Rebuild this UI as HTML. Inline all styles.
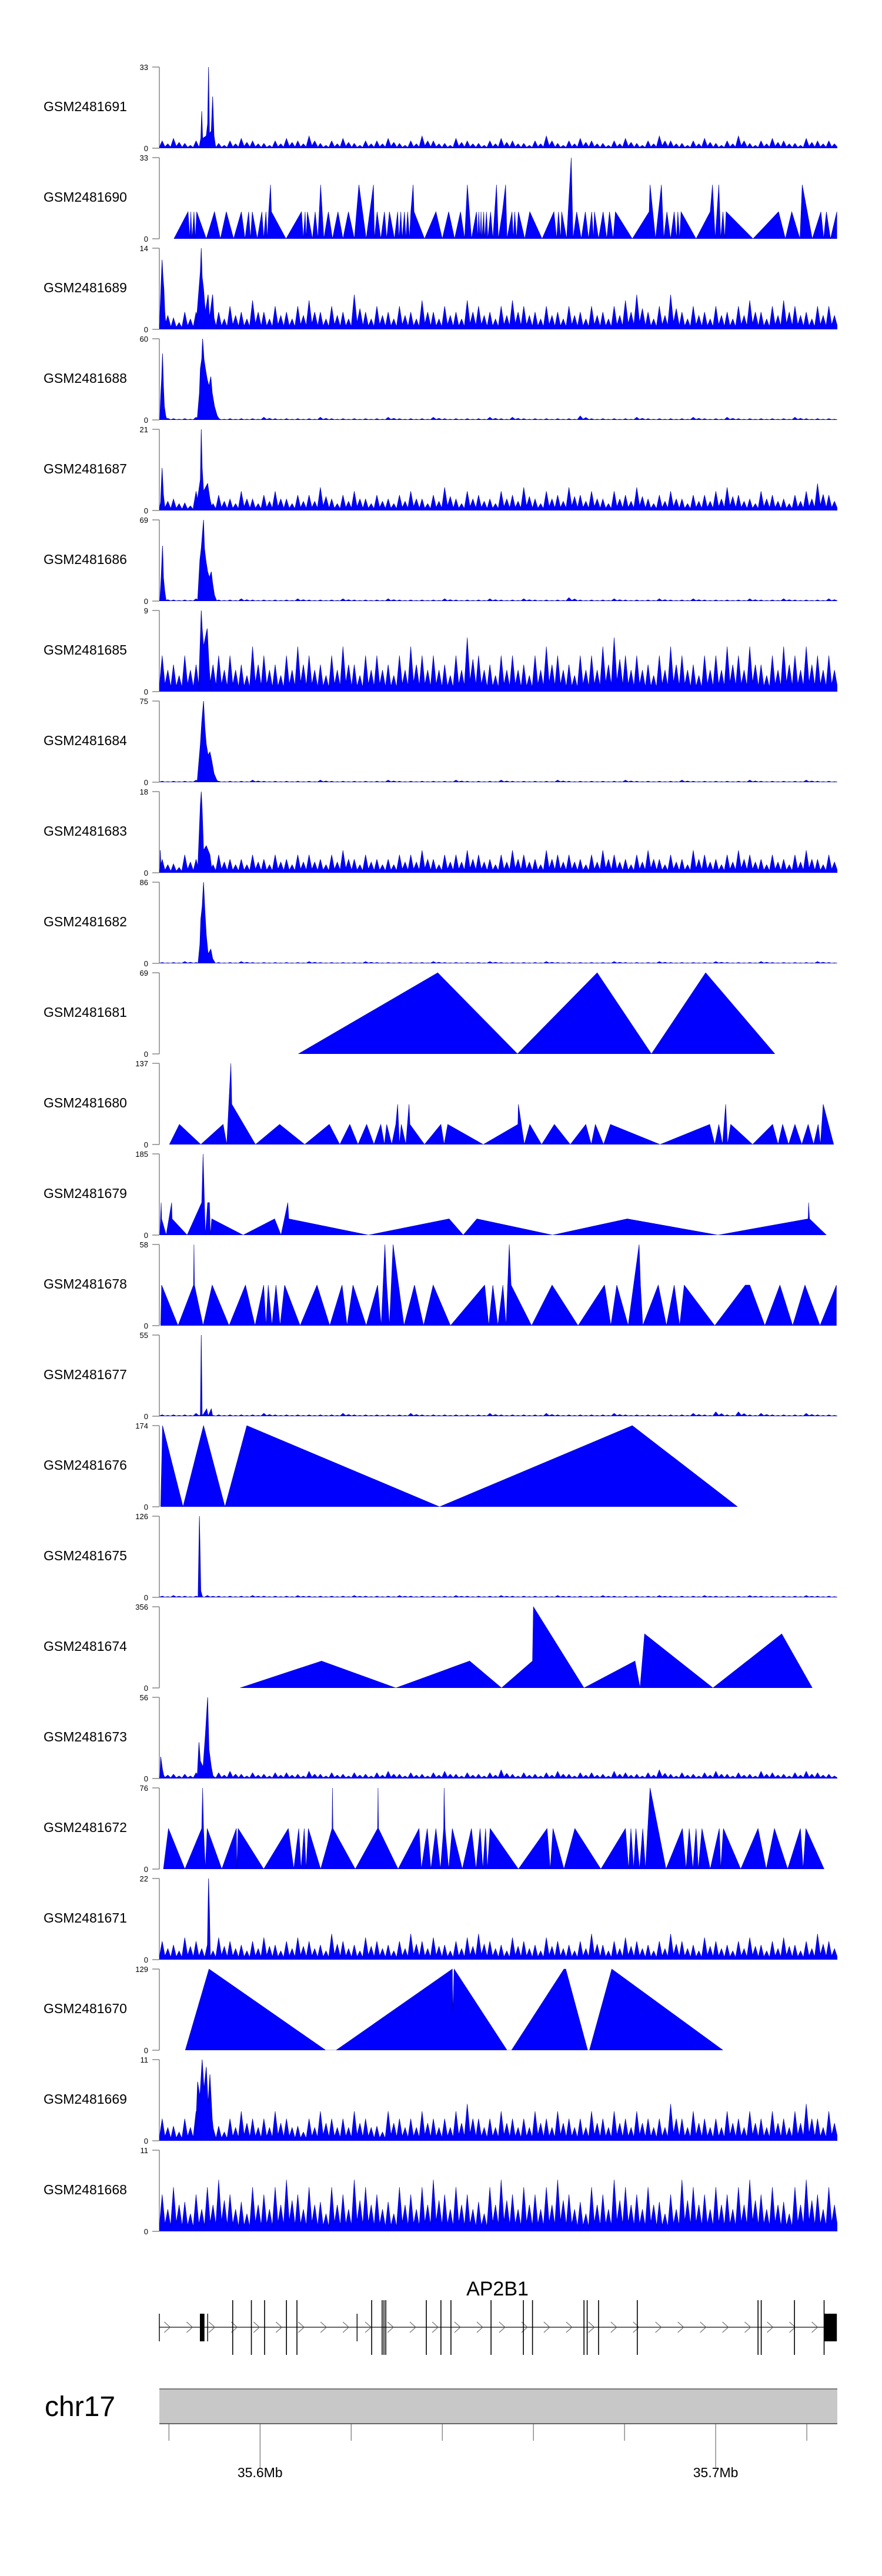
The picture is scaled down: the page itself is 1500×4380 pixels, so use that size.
<!DOCTYPE html>
<html><head><meta charset="utf-8"><title>Coverage tracks AP2B1</title>
<style>
html,body{margin:0;padding:0;background:#fff;}
svg{display:block;font-family:"Liberation Sans",Arial,sans-serif;}
</style></head>
<body>
<svg id="chart" width="1500" height="4380" viewBox="0 0 1500 4380" xmlns="http://www.w3.org/2000/svg">
<g id="tracks"></g>
<g id="gene"></g>
<g id="ideo"></g>
</svg>
<script>
// ---- genomic window (kb offset from 35.5 Mb) ----
const winStart = 77.9, winEnd = 226.7;
// ---- track names and y maxima ----
const trackNames = ["GSM2481691","GSM2481690","GSM2481689","GSM2481688","GSM2481687","GSM2481686","GSM2481685","GSM2481684","GSM2481683","GSM2481682","GSM2481681","GSM2481680","GSM2481679","GSM2481678","GSM2481677","GSM2481676","GSM2481675","GSM2481674","GSM2481673","GSM2481672","GSM2481671","GSM2481670","GSM2481669","GSM2481668"];
const trackMax = [33,33,14,60,21,69,9,75,18,86,69,137,185,58,55,174,126,356,56,76,22,129,11,11];

// ---- dense-track background levels (60 bins across the window) ----
const bg1691 = [3,4,2,3,5,2,3,4,3,2,3,4,3,5,2,3,4,2,3,3,4,2,3,5,3,2,4,3,2,3,4,3,2,3,5,2,3,4,3,2,3,4,2,3,5,3,2,3,4,2,3,5,2,3,4,3,2,4,3,3];
const bg1689 = [4,2,3,3,4,3,4,3,5,3,4,3,4,5,3,4,3,6,3,4,3,4,3,5,3,4,3,5,4,3,4,5,4,3,4,3,4,3,4,3,4,5,6,3,4,6,3,4,3,4,3,4,5,3,4,5,4,3,4,4];
const bg1688 = [2,1,1,2,1,1,1,1,1,2,1,1,1,1,2,1,1,1,1,1,2,1,1,1,2,1,1,1,1,2,1,2,1,1,1,1,1,3,1,1,1,1,2,1,1,1,1,2,1,1,2,1,1,1,1,1,2,1,1,1];
const bg1687 = [4,3,2,5,3,4,3,5,3,4,5,3,4,4,6,3,4,5,3,4,3,4,5,3,4,6,3,5,4,3,5,4,6,3,5,4,6,4,5,3,5,4,6,3,4,5,3,4,4,5,6,4,3,5,4,3,4,5,7,4];
const bg1686 = [2,1,1,2,1,1,1,2,1,1,1,1,2,1,1,1,2,1,1,1,2,1,1,1,1,2,1,1,1,2,1,1,2,1,1,1,3,1,1,1,2,1,1,1,2,1,1,2,1,1,1,1,2,1,1,2,1,1,1,2];
const bg1685 = [4,3,4,3,5,4,4,3,5,4,3,4,5,4,3,4,5,3,4,4,3,4,5,4,4,3,4,6,4,3,4,4,3,4,5,4,3,4,4,5,6,4,4,3,4,5,4,3,4,4,5,4,5,3,4,5,4,5,4,4];
const bg1684 = [1,1,1,2,1,1,1,1,2,1,1,1,1,1,2,1,1,1,1,1,2,1,1,1,1,1,2,1,1,1,2,1,1,1,1,2,1,1,1,1,1,2,1,1,1,1,2,1,1,1,1,1,2,1,1,1,1,2,1,1];
const bg1683 = [3,2,4,3,3,4,3,3,4,3,4,3,4,4,3,4,5,3,4,3,3,4,4,5,3,4,4,5,4,3,4,5,4,3,5,4,4,3,4,5,4,3,4,5,3,4,3,5,4,3,4,5,4,3,4,3,4,5,3,4];
const bg1682 = [1,1,2,1,1,1,1,2,1,1,1,1,1,2,1,1,1,1,2,1,1,1,1,1,2,1,1,1,1,2,1,1,1,1,2,1,1,1,1,1,2,1,1,1,2,1,1,1,1,2,1,1,1,2,1,1,1,1,2,1];
const bg1677 = [1,1,1,2,1,1,1,1,1,2,1,1,1,1,1,1,2,1,1,1,1,1,2,1,1,1,1,1,1,2,1,1,1,1,2,1,1,1,1,1,2,1,1,1,1,1,1,2,1,3,1,3,1,2,1,1,1,2,1,1];
const bg1675 = [2,3,2,2,3,2,2,2,3,2,2,2,3,2,2,2,2,3,2,2,2,3,2,2,2,2,3,2,2,2,3,2,2,2,2,3,2,2,2,3,2,2,2,2,3,2,2,2,3,2,2,2,3,2,2,2,2,3,2,2];
const bg1673 = [4,3,3,4,3,4,5,3,4,3,4,4,3,5,3,4,3,4,3,4,5,3,4,3,4,5,3,4,3,4,6,3,4,3,4,5,3,4,4,3,5,4,3,4,6,3,4,3,4,5,3,4,3,5,4,3,4,5,4,3];
const bg1671 = [5,4,6,5,4,6,5,4,5,6,4,5,6,5,4,7,5,4,6,5,4,5,7,5,6,4,5,6,7,5,4,6,5,4,6,5,4,5,7,4,5,6,5,4,5,7,5,4,6,5,4,5,6,4,5,6,4,5,7,5];
const bg1669 = [3,2,3,4,3,2,3,4,3,3,4,3,2,3,4,3,3,4,3,2,4,3,3,4,3,3,4,5,3,3,4,3,3,4,3,4,3,3,4,3,4,3,4,3,3,5,3,4,3,3,4,3,4,3,4,3,4,5,3,4];
const bg1668 = [5,6,4,5,6,7,5,4,6,5,6,7,5,6,4,6,5,7,6,5,4,6,5,6,7,5,6,5,4,6,7,5,6,5,6,7,5,4,6,5,7,6,5,6,4,5,7,6,5,6,5,6,7,5,6,4,6,7,5,6];

// ---- dense-track peak features [kb, value] ----
const pk1691 = [[86.6,0],[87.0,4],[87.2,15],[87.4,4],[88.2,5],[88.5,10],[88.7,33],[88.9,6],[89.3,7],[89.6,21],[89.9,5],[90.3,0]];
const pk1689 = [[78.0,2],[78.3,8],[78.5,12],[78.7,9],[78.9,7],[79.1,3],[79.4,0],[85.9,0],[86.5,6],[86.9,10],[87.1,14],[87.3,9],[87.6,7],[88.0,3],[88.6,6],[88.9,2],[89.6,6],[89.9,2],[90.5,0]];
const pk1688 = [[78.0,0],[78.2,18],[78.4,30],[78.6,49],[78.8,25],[79.0,10],[79.3,3],[79.6,0],[86.2,0],[86.7,20],[86.9,38],[87.2,45],[87.4,60],[87.7,45],[88.0,38],[88.4,30],[88.8,25],[89.2,32],[89.5,20],[90.0,10],[90.6,3],[91.2,0]];
const pk1687 = [[78.1,0],[78.5,11],[78.8,4],[79.2,0],[86.0,0],[86.4,4],[86.9,8],[87.1,21],[87.3,11],[87.6,5],[88.5,7],[89.0,3],[89.6,0]];
const pk1686 = [[78.0,0],[78.3,20],[78.6,47],[78.8,20],[79.1,8],[79.4,0],[86.3,0],[86.8,35],[87.1,45],[87.6,69],[87.8,45],[88.1,35],[88.5,25],[88.9,20],[89.3,25],[89.6,15],[90.0,5],[90.5,0]];
const pk1685 = [[86.5,0],[86.9,6],[87.1,9],[87.3,7],[87.6,5],[88.4,7],[88.8,3],[89.2,0]];
const pk1684 = [[86.2,0],[86.6,20],[86.9,35],[87.2,55],[87.6,75],[87.9,50],[88.2,35],[88.6,25],[89.0,28],[89.4,20],[89.9,8],[90.5,2],[91.0,0]];
const pk1683 = [[78.0,0],[78.1,5],[78.3,0],[86.3,0],[86.7,10],[86.9,15],[87.1,18],[87.3,14],[87.6,5],[88.2,6],[89.0,4],[89.5,0]];
const pk1682 = [[86.4,0],[86.8,20],[87.0,47],[87.3,60],[87.6,86],[87.9,55],[88.2,30],[88.6,10],[89.2,15],[89.6,5],[90.2,0]];
const pk1677 = [[86.9,0],[87.1,55],[87.3,0],[88.3,5],[88.6,0],[89.3,5],[89.6,0]];
const pk1675 = [[86.4,0],[86.7,126],[87.0,10],[87.4,0]];
const pk1673 = [[78.0,0],[78.2,15],[78.6,6],[79.0,0],[86.2,0],[86.6,25],[86.9,12],[87.5,8],[88.0,30],[88.5,56],[88.8,20],[89.3,8],[89.8,0]];
const pk1671 = [[88.4,0],[88.7,22],[88.9,13],[89.1,0]];
const pk1669 = [[85.8,0],[86.3,8],[86.8,6],[87.3,11],[87.7,7],[88.2,10],[88.6,5],[89.0,9],[89.5,3],[90.0,0]];
const pk1668 = [];

// ---- sparse (interpolated) tracks [kb, value] ----
const tri1690 = [[81.1,0],[84.2,11],[84.6,0],[84.8,11],[85.1,0],[85.5,11],[85.8,0],[86.1,11],[88.2,0],[90.0,11],[91.3,0],[92.6,11],[94.2,0],[95.9,11],[96.7,0],[97.5,11],[97.9,0],[98.3,11],[99.4,0],[100.4,11],[100.8,0],[101.3,11],[101.6,0],[101.9,11],[102.3,22],[102.5,11],[105.7,0],[109.1,11],[109.5,0],[109.9,11],[110.1,0],[110.4,11],[111.5,0],[112.1,11],[112.7,0],[113.3,22],[114.0,0],[115.0,11],[115.9,0],[117.1,11],[118.2,0],[119.4,11],[120.7,0],[121.7,22],[123.3,0],[124.9,22],[125.1,0],[125.7,11],[126.5,0],[127.3,11],[127.8,0],[128.4,11],[129.5,0],[130.2,11],[130.5,0],[130.9,11],[131.2,0],[131.7,11],[132.0,0],[132.4,11],[132.8,0],[133.1,11],[133.6,22],[133.8,11],[136.1,0],[138.6,11],[140.0,0],[141.4,11],[142.7,0],[144.0,11],[144.9,0],[145.5,22],[146.4,0],[147.5,11],[147.8,0],[148.0,11],[148.3,0],[148.5,11],[148.7,0],[149.1,11],[149.3,0],[149.7,11],[150.0,0],[150.6,11],[151.1,0],[151.9,22],[152.3,0],[153.2,11],[153.9,22],[154.2,0],[155.3,11],[155.6,0],[155.9,11],[156.3,0],[156.7,11],[158.1,0],[159.2,11],[161.9,0],[164.5,11],[165.1,0],[165.5,11],[166.0,0],[166.2,11],[167.3,0],[168.3,33],[168.7,0],[169.5,11],[170.5,0],[171.4,11],[172.1,0],[172.8,11],[173.2,0],[173.4,11],[174.3,0],[175.3,11],[176.1,0],[176.7,11],[177.5,0],[178.0,11],[181.7,0],[185.4,11],[185.6,22],[186.8,0],[188.1,22],[188.6,0],[189.3,11],[190.1,0],[190.9,11],[191.4,0],[191.7,11],[192.1,0],[192.4,11],[195.7,0],[198.8,11],[199.3,22],[199.9,0],[200.7,22],[201.1,0],[201.6,11],[202.0,0],[202.3,11],[208.2,0],[213.8,11],[215.3,0],[216.7,11],[218.5,0],[219.0,22],[221.2,0],[223.1,11],[223.7,0],[224.3,11],[225.2,0],[226.6,11]];
const tri1681 = [[108.4,0],[139.0,69],[156.5,0],[174.0,69],[185.9,0],[197.8,69],[213.0,0]];
const tri1680 = [[80.1,0],[82.3,34],[87.0,0],[91.9,34],[92.7,0],[93.6,137],[93.8,68],[99.0,0],[104.3,34],[109.8,0],[115.2,34],[117.5,0],[119.7,34],[121.5,0],[123.4,34],[125.0,0],[126.5,34],[127.3,0],[127.8,34],[128.9,0],[129.8,34],[130.2,68],[130.6,0],[131.0,34],[132.0,0],[132.7,68],[132.9,34],[136.1,0],[139.7,34],[140.4,0],[141.2,34],[149.0,0],[156.6,34],[156.7,68],[158.0,0],[159.2,34],[161.8,0],[164.6,34],[168.1,0],[171.5,34],[172.7,0],[173.6,34],[175.4,0],[176.9,34],[187.8,0],[198.7,34],[199.8,0],[200.7,34],[201.5,0],[202.2,68],[202.6,0],[203.3,34],[208.1,0],[212.5,34],[213.7,0],[214.7,34],[216.0,0],[217.4,34],[218.9,0],[220.3,34],[221.5,0],[222.5,34],[223.0,0],[223.6,68],[225.9,0]];
const tri1679 = [[78.0,0],[78.3,74],[78.4,37],[79.4,0],[80.6,74],[80.7,37],[84.0,0],[87.2,74],[87.5,185],[88.0,0],[88.5,74],[88.9,74],[89.1,0],[89.4,37],[96.3,0],[103.2,37],[104.6,0],[106.1,74],[106.3,37],[123.8,0],[141.5,37],[144.6,0],[147.6,37],[164.2,0],[180.6,37],[200.5,0],[220.3,37],[220.4,74],[220.6,37],[224.3,0]];
const tri1678 = [[78.2,0],[78.4,29],[82.0,0],[85.4,29],[85.5,58],[85.6,29],[87.5,0],[89.5,29],[93.2,0],[96.8,29],[98.9,0],[100.8,29],[101.3,0],[101.8,29],[102.6,0],[103.5,29],[104.4,0],[105.4,29],[108.8,0],[112.5,29],[115.3,0],[118.0,29],[119.1,0],[120.4,29],[123.3,0],[125.8,29],[126.6,0],[127.4,58],[127.8,29],[128.4,0],[129.2,58],[131.6,0],[133.9,29],[135.9,0],[138.0,29],[141.8,0],[149.3,29],[150.2,0],[151.1,29],[152.2,0],[153.3,29],[154.0,0],[154.7,58],[155.1,29],[159.6,0],[164.1,29],[169.8,0],[175.6,29],[177.0,0],[178.3,29],[180.8,0],[183.2,58],[183.5,29],[184.0,0],[187.4,29],[189.2,0],[190.9,29],[192.1,0],[193.1,29],[199.8,0],[206.5,29],[207.5,29],[210.8,0],[214.1,29],[216.9,0],[219.6,29],[222.9,0],[226.5,29]];
const tri1676 = [[78.2,0],[78.6,174],[83.1,0],[87.6,174],[92.3,0],[97.1,174],[139.4,0],[181.7,174],[204.8,0]];
const tri1674 = [[95.6,0],[113.5,118],[129.8,0],[146.0,118],[153.0,0],[159.8,118],[160.0,356],[171.1,0],[182.3,118],[183.4,0],[184.4,237],[199.4,0],[214.5,237],[221.2,0]];
const tri1672 = [[78.8,0],[79.9,38],[83.5,0],[87.2,38],[87.4,76],[87.6,38],[88.0,0],[88.4,38],[91.6,0],[94.8,38],[94.9,0],[95.2,38],[100.8,0],[106.2,38],[107.4,0],[108.5,38],[109.0,0],[109.7,38],[110.1,0],[110.6,38],[113.3,0],[115.8,38],[115.9,76],[116.0,38],[120.9,0],[125.8,38],[125.9,76],[126.0,38],[130.3,0],[134.9,38],[135.4,0],[136.7,38],[137.5,0],[138.6,38],[139.6,0],[140.3,38],[140.4,76],[140.6,38],[141.4,0],[142.2,38],[144.4,0],[146.4,38],[147.4,0],[148.3,38],[148.9,0],[149.5,38],[149.9,0],[150.5,38],[156.7,0],[163.0,38],[163.7,0],[164.3,38],[166.7,0],[169.1,38],[174.8,0],[180.2,38],[180.9,0],[181.4,38],[182.0,0],[182.5,38],[183.3,0],[184.0,38],[184.6,0],[185.1,38],[185.6,76],[189.1,0],[192.7,38],[193.5,0],[194.2,38],[195.0,0],[195.7,38],[196.2,0],[197.0,38],[198.8,0],[200.8,38],[201.1,0],[201.7,38],[205.5,0],[209.3,38],[211.1,0],[212.9,38],[215.8,0],[218.6,38],[219.2,0],[219.8,38],[223.8,0]];
const tri1670 = [[83.6,0],[88.8,129],[114.4,0],[116.7,0],[142.2,129],[142.3,60],[142.6,129],[154.2,0],[155.2,0],[166.7,129],[167.1,129],[171.9,0],[172.3,0],[177.2,129],[201.6,0]];

// ---- gene model (kb) ----
const exonTall = [94.0,98.1,101.0,105.8,108.1,124.5,126.8,127.2,127.6,136.5,139.7,141.9,150.7,157.8,159.8,171.1,171.8,174.3,182.8,209.3,210.0,217.3,223.8];
const exonShort = [77.9,88.5,121.3];
const exonBoxes = [[86.8,87.8],[223.8,226.6]];
const geneStartKb = 77.9, geneEndKb = 223.8;
// ---- axis ticks (Mb) ----
const majorTicks = [35.6,35.7];
const majorLabels = ["35.6Mb","35.7Mb"];
const minorTicks = [35.58,35.62,35.64,35.66,35.68,35.72];

const trackData = {
 GSM2481691:{kind:'dense',bg:bg1691,pk:pk1691}, GSM2481690:{kind:'tri',pts:tri1690},
 GSM2481689:{kind:'dense',bg:bg1689,pk:pk1689}, GSM2481688:{kind:'dense',bg:bg1688,pk:pk1688},
 GSM2481687:{kind:'dense',bg:bg1687,pk:pk1687}, GSM2481686:{kind:'dense',bg:bg1686,pk:pk1686},
 GSM2481685:{kind:'dense',bg:bg1685,pk:pk1685}, GSM2481684:{kind:'dense',bg:bg1684,pk:pk1684},
 GSM2481683:{kind:'dense',bg:bg1683,pk:pk1683}, GSM2481682:{kind:'dense',bg:bg1682,pk:pk1682},
 GSM2481681:{kind:'tri',pts:tri1681}, GSM2481680:{kind:'tri',pts:tri1680},
 GSM2481679:{kind:'tri',pts:tri1679}, GSM2481678:{kind:'tri',pts:tri1678},
 GSM2481677:{kind:'dense',bg:bg1677,pk:pk1677}, GSM2481676:{kind:'tri',pts:tri1676},
 GSM2481675:{kind:'dense',bg:bg1675,pk:pk1675}, GSM2481674:{kind:'tri',pts:tri1674},
 GSM2481673:{kind:'dense',bg:bg1673,pk:pk1673}, GSM2481672:{kind:'tri',pts:tri1672},
 GSM2481671:{kind:'dense',bg:bg1671,pk:pk1671}, GSM2481670:{kind:'tri',pts:tri1670},
 GSM2481669:{kind:'dense',bg:bg1669,pk:pk1669}, GSM2481668:{kind:'dense',bg:bg1668,pk:pk1668}
};

const NS = "http://www.w3.org/2000/svg";
const PX0 = 271, PX1 = 1424;
function xs(kb){ return PX0 + (kb - winStart) / (winEnd - winStart) * (PX1 - PX0); }
function xMb(mb){ return xs((mb - 35.5) * 1000); }
function mk(tag, attrs, parent){ const e = document.createElementNS(NS, tag); for (const k in attrs) e.setAttribute(k, attrs[k]); parent.appendChild(e); return e; }

const gTracks = document.getElementById('tracks');
const defs = mk('defs', {}, document.getElementById('chart'));
const TOP0 = 114, PITCH = 154, H = 138;

trackNames.forEach((name, i) => {
  const top = TOP0 + i * PITCH, bot = top + H, max = trackMax[i];
  const ys = v => bot - Math.min(v, max) / max * H;
  const g = mk('g', {}, gTracks);
  
  
  const cp = mk('clipPath', {id: 'cp' + i}, defs);
  mk('rect', {x: PX0, y: top - 1, width: PX1 - PX0, height: H + 1}, cp);

  const lab = mk('text', {x: 74, y: top + 75, 'font-size': 23, fill: '#000'}, g);
  lab.textContent = name;
  
  

  const ax = mk('path', {d: `M${PX0} ${top}V${bot}M${PX0} ${top}H259M${PX0} ${bot}H259`, stroke: '#888', 'stroke-width': 1.5, fill: 'none'}, g);
  
  
  const tMax = mk('text', {x: 252, y: top + 5, 'font-size': 13, 'text-anchor': 'end', fill: '#000'}, g);
  tMax.textContent = String(max);
  
  
  const tZero = mk('text', {x: 252, y: bot + 5, 'font-size': 13, 'text-anchor': 'end', fill: '#000'}, g);
  tZero.textContent = '0';
  
  

  const d = trackData[name];
  const plot = mk('g', {'clip-path': `url(#cp${i})`}, g);
  if (d.kind === 'dense') {
    const n = d.bg.length, w = (winEnd - winStart) / n;
    let p = `M${xs(winStart)} ${bot}`;
    d.bg.forEach((v, j) => {
      const k0 = winStart + j * w;
      p += `L${xs(k0)} ${ys(v * 0.15)}L${xs(k0 + w * 0.25)} ${ys(v)}L${xs(k0 + w * 0.5)} ${ys(v * 0.2)}L${xs(k0 + w * 0.75)} ${ys(v * 0.6)}L${xs(k0 + w)} ${ys(v * 0.15)}`;
    });
    p += `L${xs(winEnd)} ${bot}Z`;
    const bgp = mk('path', {d: p, fill: '#0000ff', stroke: '#0000a0', 'stroke-width': 0.6}, plot);
    
    
    if (d.pk.length) {
      let q = `M${xs(d.pk[0][0])} ${bot}`;
      d.pk.forEach(pt => { q += `L${xs(pt[0])} ${ys(pt[1])}`; });
      q += `L${xs(d.pk[d.pk.length - 1][0])} ${bot}Z`;
      const pkp = mk('path', {d: q, fill: '#0000ff', stroke: '#0000a0', 'stroke-width': 0.8}, plot);
      
      
    }
  } else {
    const pts = d.pts;
    let q = `M${xs(pts[0][0])} ${bot}`;
    pts.forEach(pt => { q += `L${xs(pt[0])} ${ys(pt[1])}`; });
    q += `L${xs(pts[pts.length - 1][0])} ${bot}Z`;
    const tp = mk('path', {d: q, fill: '#0000ff', stroke: '#0000a0', 'stroke-width': 0.6}, plot);
    
    
  }
});

// ---- gene model ----
const gGene = document.getElementById('gene');
const GY = 3957;
const gname = mk('text', {x: 846, y: 3903, 'font-size': 34, 'text-anchor': 'middle', fill: '#000'}, gGene);
gname.textContent = 'AP2B1';


const bb = mk('line', {x1: xs(geneStartKb), y1: GY, x2: xs(geneEndKb), y2: GY, stroke: '#333', 'stroke-width': 1.5}, gGene);


for (let k = winStart + 1.6; k < geneEndKb - 1; k += 4.9) {
  const x = xs(k);
  const ch = mk('path', {d: `M${x - 4} ${GY - 9}L${x + 6} ${GY}L${x - 4} ${GY + 9}`, stroke: '#555', 'stroke-width': 1, fill: 'none'}, gGene);
  
  
}
exonTall.forEach(k => {
  const e = mk('line', {x1: xs(k), y1: 3911, x2: xs(k), y2: 4004, stroke: '#000', 'stroke-width': 1.6}, gGene);
  
  
});
exonShort.forEach(k => {
  const e = mk('line', {x1: xs(k), y1: 3934, x2: xs(k), y2: 3981, stroke: '#000', 'stroke-width': 1.4}, gGene);
  
  
});
exonBoxes.forEach(b => {
  const e = mk('rect', {x: xs(b[0]), y: 3934, width: xs(b[1]) - xs(b[0]), height: 47, fill: '#000'}, gGene);
  
  
});

// ---- chromosome axis ----
const gI = document.getElementById('ideo');
const chr = mk('text', {x: 76, y: 4108, 'font-size': 48, fill: '#000'}, gI);
chr.textContent = 'chr17';


const bar = mk('rect', {x: PX0, y: 4062, width: PX1 - PX0, height: 59, fill: '#c8c8c8'}, gI);


mk('line', {x1: PX0, y1: 4062, x2: PX1, y2: 4062, stroke: '#777', 'stroke-width': 2}, gI);
mk('line', {x1: PX0, y1: 4121, x2: PX1, y2: 4121, stroke: '#666', 'stroke-width': 2}, gI);
minorTicks.forEach(m => {
  const t = mk('line', {x1: xMb(m), y1: 4121, x2: xMb(m), y2: 4150, stroke: '#555', 'stroke-width': 1}, gI);
  
  
});
majorTicks.forEach((m, j) => {
  const t = mk('line', {x1: xMb(m), y1: 4121, x2: xMb(m), y2: 4197, stroke: '#555', 'stroke-width': 1}, gI);
  
  
  const l = mk('text', {x: xMb(m), y: 4212, 'font-size': 23, 'text-anchor': 'middle', fill: '#000'}, gI);
  l.textContent = majorLabels[j];
  
  
});
</script>
</body></html>
